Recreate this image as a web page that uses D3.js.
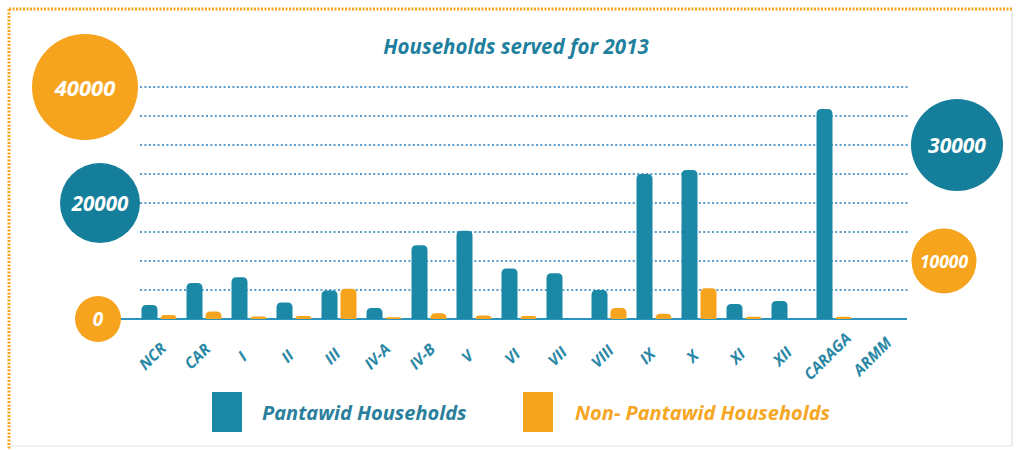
<!DOCTYPE html>
<html>
<head>
<meta charset="utf-8">
<script src="https://cdn.jsdelivr.net/npm/d3@7/dist/d3.min.js"></script>
<style>
  html, body { margin: 0; padding: 0; background: #fff; }
  svg { display: block; }
  text { font-family: "Open Sans", "Noto Sans", sans-serif; font-weight: 700; font-style: italic; }
</style>
</head>
<body>
<svg></svg>
<script>
// regions and values (households served, 2013)
let categories = ["NCR", "CAR", "I", "II", "III", "IV-A", "IV-B", "V", "VI", "VII", "VIII", "IX", "X", "XI", "XII", "CARAGA", "ARMM"];
let pantawid    = [2400, 6200, 7200, 2850, 4900, 1900, 12700, 15200, 8700, 7900, 5000, 25000, 25700, 2600, 3100, 36200, 0];
let nonPantawid = [700, 1300, 450, 500, 5200, 300, 1000, 600, 500, 0, 1900, 900, 5300, 400, 0, 400, 0];
let gridValues = [5000, 10000, 15000, 20000, 25000, 30000, 35000, 40000];
let leftTicks = [40000, 20000, 0];
let rightTicks = [30000, 10000];
let seriesNames = ["Pantawid Households", "Non- Pantawid Households"];
let title = "Households served for 2013";

let width = 1016, height = 450;
let teal = "#1b88a6", tealDark = "#157e9a", orange = "#f6a31e";

let svg = d3.select("svg").attr("width", width).attr("height", height);

// frame: dotted orange on top and left, faint grey right/bottom
svg.append("line").attr("x1", 9).attr("x2", 1012).attr("y1", 9).attr("y2", 9)
  .attr("stroke", orange).attr("stroke-width", 3).attr("stroke-dasharray", "2,1.5");
svg.append("line").attr("x1", 9).attr("x2", 9).attr("y1", 9).attr("y2", 450)
  .attr("stroke", orange).attr("stroke-width", 3).attr("stroke-dasharray", "2,1.5");
svg.append("line").attr("x1", 1012).attr("x2", 1012).attr("y1", 10).attr("y2", 446)
  .attr("stroke", "#d8d8d8").attr("stroke-width", 1);
svg.append("line").attr("x1", 10).attr("x2", 1012).attr("y1", 446).attr("y2", 446)
  .attr("stroke", "#e4e4e4").attr("stroke-width", 1);

let x = d3.scaleBand().domain(categories).range([137, 137 + 45 * categories.length]);
let y = d3.scaleLinear().domain([0, 40000]).range([319, 87]);

// title
svg.append("text").attr("x", 516).attr("y", 54).attr("text-anchor", "middle")
  .attr("font-size", 20.5).attr("fill", "#1f7f9e").text(title);

// dotted gridlines
svg.append("g").selectAll("line").data(gridValues).join("line")
  .attr("x1", 140).attr("x2", 910)
  .attr("y1", d => y(d)).attr("y2", d => y(d))
  .attr("stroke", "#3f8cc6").attr("stroke-width", 2)
  .attr("stroke-dasharray", "2,2.4").attr("opacity", 0.85);

// baseline
svg.append("line").attr("x1", 118).attr("x2", 907).attr("y1", y(0)).attr("y2", y(0))
  .attr("stroke", "#2b95c0").attr("stroke-width", 2);

function barPath(bx, w, v) {
  let y0 = y(0), h = y0 - y(v);
  if (h <= 0) return "";
  let r = Math.min(5, h, w / 2);
  let top = y0 - h;
  return `M${bx},${y0}V${top + r}Q${bx},${top} ${bx + r},${top}H${bx + w - r}Q${bx + w},${top} ${bx + w},${top + r}V${y0}Z`;
}

let barW = 16;
svg.append("g").selectAll("path").data(categories).join("path")
  .attr("d", (c, i) => barPath(x(c) + 4.5, barW, pantawid[i]))
  .attr("fill", teal);
svg.append("g").selectAll("path").data(categories).join("path")
  .attr("d", (c, i) => barPath(x(c) + 23.5, barW, nonPantawid[i]))
  .attr("fill", orange);

// category labels, rotated
svg.append("g").selectAll("text").data(categories).join("text")
  .attr("transform", c => `translate(${x(c) + 15},356) rotate(-45)`)
  .attr("text-anchor", "middle").attr("dominant-baseline", "central")
  .attr("font-size", 15.5).attr("fill", "#2a87a5")
  .text(c => c);

// value bubbles on both sides
let bubbleStyle = {
  40000: { cx: 85, r: 53, fill: orange, size: 22 },
  20000: { cx: 100, r: 40, fill: tealDark, size: 20.5 },
  0: { cx: 98, r: 23, fill: orange, size: 19 },
  30000: { cx: 957, r: 46, fill: tealDark, size: 21 },
  10000: { cx: 944, r: 32.5, fill: orange, size: 17.5 }
};
let bubbles = svg.append("g").selectAll("g").data(leftTicks.concat(rightTicks)).join("g")
  .attr("transform", d => `translate(${bubbleStyle[d].cx},${y(d)})`);
bubbles.append("circle").attr("r", d => bubbleStyle[d].r).attr("fill", d => bubbleStyle[d].fill);
bubbles.append("text").attr("text-anchor", "middle").attr("dominant-baseline", "central")
  .attr("font-size", d => bubbleStyle[d].size).attr("fill", "#fff")
  .text(d => d);

// legend
let legend = svg.append("g").selectAll("g").data(seriesNames).join("g")
  .attr("transform", (d, i) => `translate(${i ? 523 : 212},392)`);
legend.append("rect").attr("width", 30).attr("height", 40)
  .attr("fill", (d, i) => i ? orange : teal);
legend.append("text").attr("x", (d, i) => i ? 52 : 50).attr("y", 20)
  .attr("dominant-baseline", "central").attr("font-size", 20)
  .attr("fill", (d, i) => i ? "#f5a623" : "#2a7f9c")
  .text(d => d);
</script>
</body>
</html>
